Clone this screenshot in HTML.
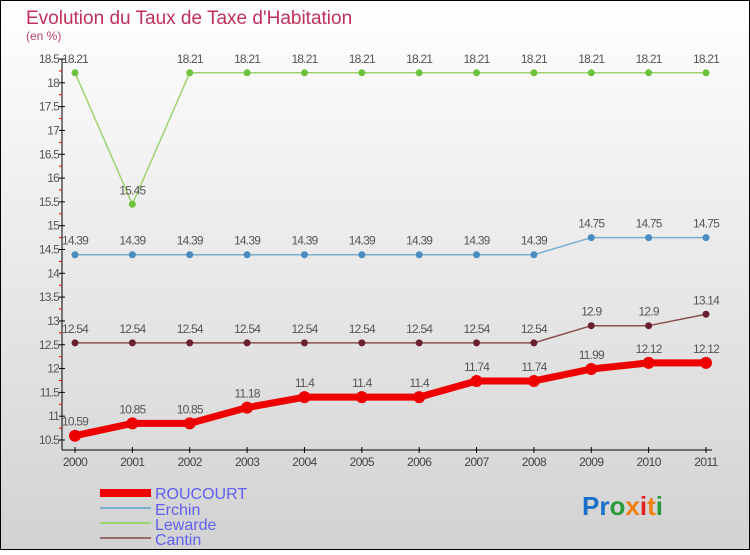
<!DOCTYPE html>
<html><head><meta charset="utf-8"><style>
html,body{margin:0;padding:0}
body{width:750px;height:550px;overflow:hidden;font-family:"Liberation Sans",sans-serif}
</style></head><body>
<svg id="c" width="750" height="550" xmlns="http://www.w3.org/2000/svg">
<defs><linearGradient id="bg" x1="0" y1="0" x2="0" y2="1"><stop offset="0" stop-color="#ffffff"/><stop offset="1" stop-color="#d2d2d2"/></linearGradient></defs>
<rect x="0.5" y="0.5" width="749" height="549" fill="url(#bg)" stroke="#000"/>
<text x="26" y="24" font-size="19" fill="#c0305a">Evolution du Taux de Taxe d'Habitation</text>
<text x="26" y="40" font-size="12" fill="#c0406a">(en %)</text>
<g id="axes"></g><g id="series"></g>
<g>
<rect x="100" y="489" width="51" height="8" fill="#e00"/>
<text x="155" y="499" font-size="16" fill="#6060f0">ROUCOURT</text>
<rect x="100" y="507" width="51" height="2" fill="#7aaecf"/>
<text x="155" y="515" font-size="16" fill="#6060f0">Erchin</text>
<rect x="100" y="522" width="51" height="2" fill="#9ed36e"/>
<text x="155" y="530" font-size="16" fill="#6060f0">Lewarde</text>
<rect x="100" y="537" width="51" height="2" fill="#9a6a6a"/>
<text x="155" y="545" font-size="16" fill="#6060f0">Cantin</text>
</g>
<text x="582" y="515" font-size="26" font-weight="bold"><tspan fill="#1a70c8">Pr</tspan><tspan fill="#2a9a3a">o</tspan><tspan fill="#f08010">x</tspan><tspan fill="#e02020">i</tspan><tspan fill="#f08010">t</tspan><tspan fill="#2a9a3a">i</tspan></text>
</svg>
<script>
const years=[2000,2001,2002,2003,2004,2005,2006,2007,2008,2009,2010,2011];
const yTicks=[10.5,11,11.5,12,12.5,13,13.5,14,14.5,15,15.5,16,16.5,17,17.5,18,18.5];
const roucourt=[10.59,10.85,10.85,11.18,11.4,11.4,11.4,11.74,11.74,11.99,12.12,12.12];
const erchin=[14.39,14.39,14.39,14.39,14.39,14.39,14.39,14.39,14.39,14.75,14.75,14.75];
const lewarde=[18.21,15.45,18.21,18.21,18.21,18.21,18.21,18.21,18.21,18.21,18.21,18.21];
const cantin=[12.54,12.54,12.54,12.54,12.54,12.54,12.54,12.54,12.54,12.9,12.9,13.14];
const NS="http://www.w3.org/2000/svg";
const sx=i=>75+i*(706-75)/11;
const sy=v=>440-(v-10.5)*(381/8);
function mk(t,a,p){const e=document.createElementNS(NS,t);for(const k in a)e.setAttribute(k,a[k]);p.appendChild(e);return e;}
const ax=document.getElementById('axes');
let e=mk('line',{x1:62,y1:sy(18.5),x2:62,y2:450,stroke:'#000'},ax);


e=mk('line',{x1:62,y1:450,x2:712,y2:450,stroke:'#000'},ax);


yTicks.forEach((v,i)=>{
 const y=sy(v);
 let t=mk('line',{x1:59,y1:y,x2:65,y2:y,stroke:'#000'},ax);
 
 
 if(i<yTicks.length-1){let m=mk('line',{x1:59,y1:y-381/32,x2:62,y2:y-381/32,stroke:'#e00'},ax);
 
 }
 let l=mk('text',{x:59,y:y+4,'font-size':12,'text-anchor':'end',fill:'#555','letter-spacing':'-0.8'},ax);
 
 
 l.textContent=v;
});
years.forEach((yr,i)=>{
 const x=sx(i);
 let t=mk('line',{x1:x,y1:447,x2:x,y2:453,stroke:'#000'},ax);
 
 
 let l=mk('text',{x:x,y:466,'font-size':12,'text-anchor':'middle',fill:'#444','letter-spacing':'-0.6'},ax);
 
 
 l.textContent=yr;
});
const sg=document.getElementById('series');
function draw(name,data,color,dot,w,r){
 const g=mk('g',{},sg);
 
 
 let p=mk('polyline',{points:data.map((v,i)=>sx(i)+','+sy(v)).join(' '),fill:'none',stroke:color,'stroke-width':w,'stroke-linejoin':'round'},g);
 
 
 data.forEach((v,i)=>{
  let c=mk('circle',{cx:sx(i),cy:sy(v),r:r,fill:dot},g);
  
  
  let l=mk('text',{x:sx(i),y:sy(v)-10,'font-size':12,'text-anchor':'middle',fill:'#555','letter-spacing':'-0.8'},g);
  
  
  l.textContent=v;
 });
}
draw('lewarde',lewarde,'#9ed36e','#6cc23a',1.5,3.5);
draw('erchin',erchin,'#7aaecf','#4a8cc0',1.5,3.5);
draw('cantin',cantin,'#8a5050','#6a2030',1.5,3.5);
draw('roucourt',roucourt,'#e00','#e00',7,6);
</script>
</body></html>
